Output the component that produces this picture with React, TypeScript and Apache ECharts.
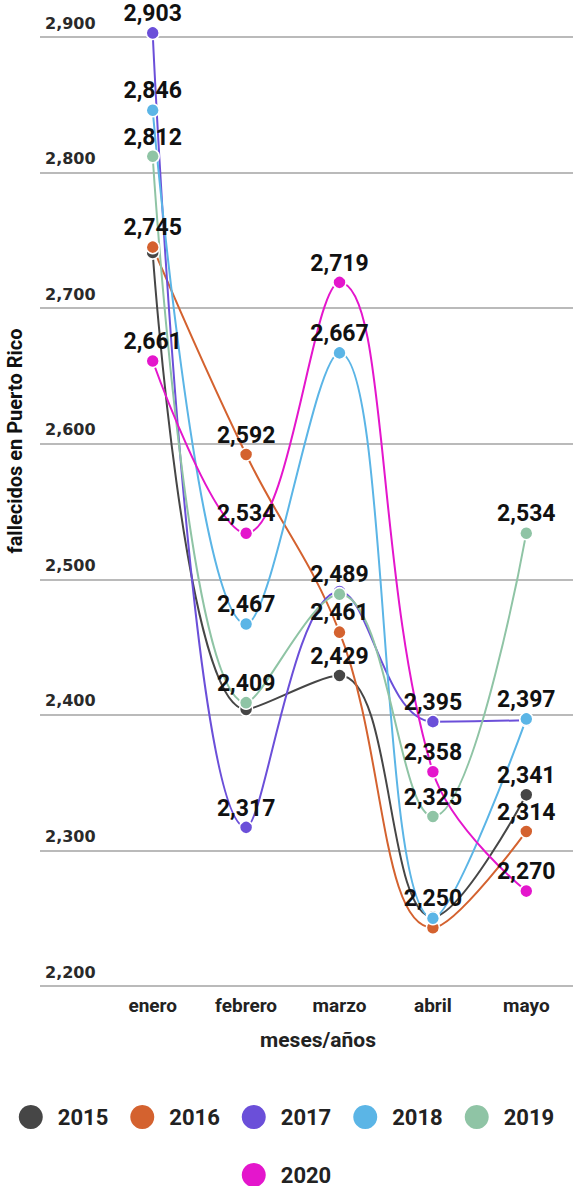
import React, { useEffect, useRef } from "react";
import * as echarts from "echarts";

const months = ["enero", "febrero", "marzo", "abril", "mayo"];
const years = ["2015", "2016", "2017", "2018", "2019", "2020"];
const v2015 = [2741, 2404, 2429, 2251, 2341];
const v2016 = [2745, 2592, 2461, 2243, 2314];
const v2017 = [2903, 2317, 2491, 2395, 2396];
const v2018 = [2846, 2467, 2667, 2250, 2397];
const v2019 = [2812, 2409, 2489, 2325, 2534];
const v2020 = [2661, 2534, 2719, 2358, 2270];
const values = [v2015, v2016, v2017, v2018, v2019, v2020];
// labels hidden in the reference (overlapped points)
const hiddenLabels: Record<string, number[]> = {
  "2015": [0, 1, 3],
  "2016": [3],
  "2017": [2, 4],
};
const colors = ["#464646", "#d4622f", "#6b4fd9", "#5bb5e6", "#8fc4a5", "#e416cc"];
const yMin = 2200;
const yMax = 2900;
const yStep = 100;

export default function App() {
  const ref = useRef<HTMLDivElement>(null);
  useEffect(() => {
    document.body.style.margin = "0";
    const chart = echarts.init(ref.current!, null, { renderer: "svg" });
    const fmt = (v: number) => v.toLocaleString("en-US");
    const series = years.map((y, i) => ({
      name: y,
      type: "line",
      xAxisIndex: 1,
      yAxisIndex: 1,
      clip: false,
      smooth: 0.4,
      symbol: "circle",
      symbolSize: 13,
      lineStyle: { width: 2, color: colors[i] },
      itemStyle: { color: colors[i], borderColor: "#fff", borderWidth: 1.5 },
      label: {
        show: true,
        position: "top",
        distance: 2,
        lineHeight: 20,
        formatter: (p: any) => fmt(p.value),
        fontFamily: "Roboto",
        fontWeight: "bold",
        fontSize: 23,
        color: "#111",
      },
      data: values[i].map((v, j) =>
        (hiddenLabels[y] || []).includes(j) ? { value: v, label: { show: false } } : v
      ),
    }));
    const legendCommon = {
      icon: "circle",
      itemWidth: 24,
      itemHeight: 24,
      itemGap: 22,
      left: "center",
      itemStyle: { borderWidth: 0 },
      textStyle: {
        fontFamily: "Roboto",
        fontWeight: "bold",
        fontSize: 22,
        color: "#222",
        padding: [0, 0, 0, 10],
      },
    };
    chart.setOption({
      animation: false,
      grid: [
        { left: 40, right: 0, top: 37, bottom: 200 },
        { left: 106, width: 469, top: 37, bottom: 200 },
      ],
      xAxis: [
        { gridIndex: 0, type: "value", min: 0, max: 1, show: false },
        {
          gridIndex: 1,
          type: "category",
          data: months,
          boundaryGap: true,
          axisLine: { show: false },
          axisTick: { show: false },
          axisLabel: {
            margin: 10,
            fontFamily: "Roboto",
            fontWeight: "bold",
            fontSize: 19,
            color: "#222",
          },
        },
      ],
      yAxis: [
        {
          gridIndex: 0,
          type: "value",
          min: yMin,
          max: yMax,
          interval: yStep,
          axisLine: { show: false },
          axisTick: { show: false },
          splitLine: { lineStyle: { color: "#a3a3a3", width: 1.5 } },
          axisLabel: {
            inside: true,
            margin: 5,
            verticalAlign: "bottom",
            padding: [0, 0, 6, 0],
            formatter: (v: number) => fmt(v),
            fontFamily: "DejaVu Sans",
            fontWeight: "bold",
            fontSize: 16,
            color: "#2a2a2a",
          },
        },
        { gridIndex: 1, type: "value", min: yMin, max: yMax, interval: yStep, show: false },
      ],
      legend: [
        { ...legendCommon, top: 1100, data: years.slice(0, 5) },
        { ...legendCommon, top: 1158, data: years.slice(5) },
      ],
      graphic: [
        {
          type: "text",
          x: 15,
          y: 441,
          rotation: Math.PI / 2,
          style: {
            text: "fallecidos en Puerto Rico",
            fontFamily: "Roboto",
            fontWeight: "bold",
            fontSize: 20,
            fill: "#111",
            textAlign: "center",
            textVerticalAlign: "middle",
          },
        },
        {
          type: "text",
          x: 318,
          y: 1040,
          style: {
            text: "meses/años",
            fontFamily: "Roboto",
            fontWeight: "bold",
            fontSize: 21,
            fill: "#222",
            textAlign: "center",
            textVerticalAlign: "middle",
          },
        },
      ],
      series,
    });
    return () => chart.dispose();
  }, []);
  return <div ref={ref} style={{ width: 573, height: 1186 }} />;
}
